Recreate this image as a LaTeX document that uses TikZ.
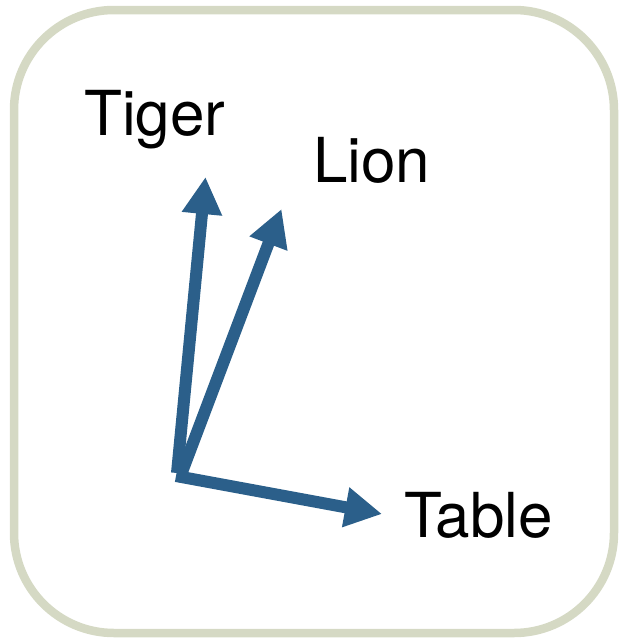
\documentclass[tikz,border=0pt]{standalone}
\usepackage{fontspec}
\setmainfont{TeX Gyre Heros}
\usetikzlibrary{arrows.meta}
\definecolor{framec}{HTML}{D5D9C4}
\definecolor{arrowc}{HTML}{2B5F8A}
\tikzset{
  vec/.style={draw=arrowc, line width=12pt, -{Triangle[length=37pt,width=38pt]}},
  word/.style={inner sep=0pt, anchor=base west, font=\fontsize{62}{70}\selectfont}
}
\begin{document}
\begin{tikzpicture}[x=1pt,y=-1pt]
\useasboundingbox (0,0) rectangle (620,638);
\draw[framec, line width=8.5pt, rounded corners=100pt] (14,10) rectangle (614,633);
\coordinate (oT) at (177,473);
\coordinate (oL) at (182,472);
\coordinate (oB) at (176,476);
\coordinate (tT) at (205.5,177);
\coordinate (tL) at (281.5,209);
\coordinate (tB) at (382,514);
\draw[vec] (oT) -- (tT);
\draw[vec] (oL) -- (tL);
\draw[vec] (oB) -- (tB);
\node[word] (tiger) at (84,135) {Tiger};
\node[word] (lion) at (313,182) {Lion};
\node[word] (table) at (404,537) {Table};
\end{tikzpicture}
\end{document}
